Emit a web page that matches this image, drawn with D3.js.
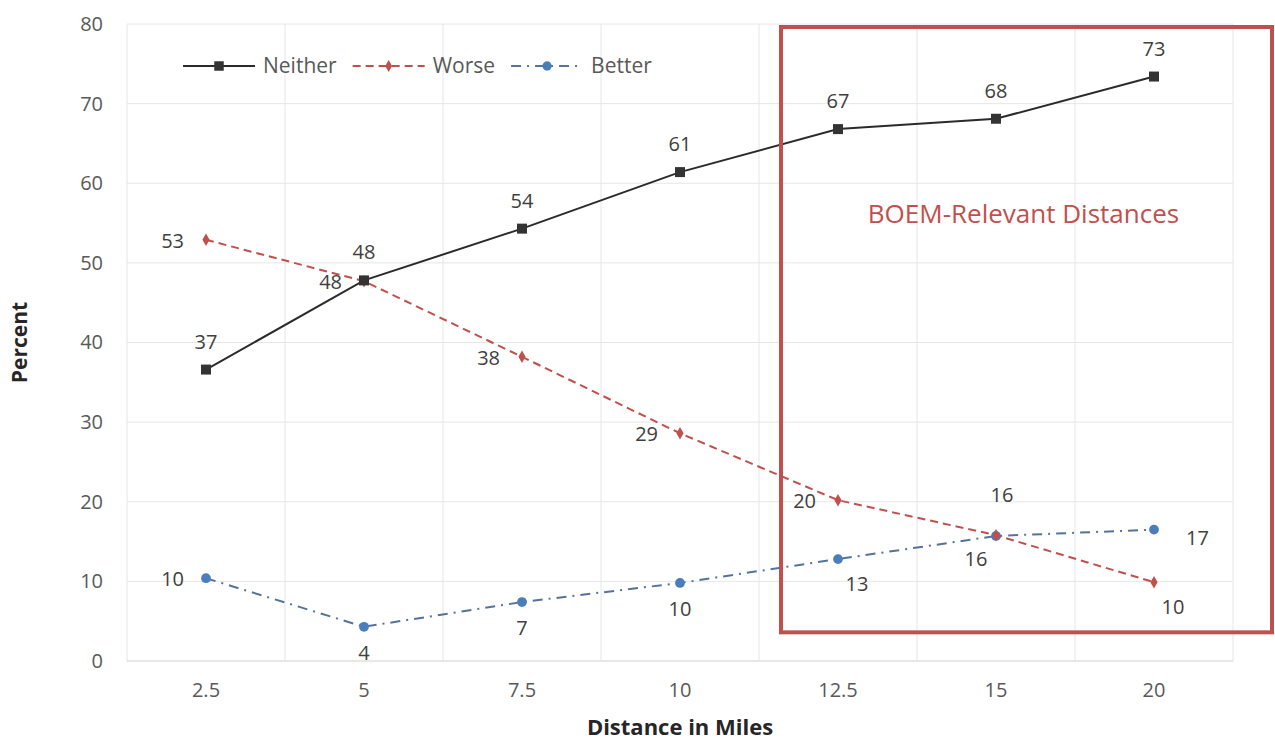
<!DOCTYPE html>
<html>
<head>
<meta charset="utf-8">
<script src="https://cdn.jsdelivr.net/npm/d3@7/dist/d3.min.js"></script>
<style>
  body { margin: 0; background: #fff; }
  svg text { font-family: "Open Sans", "Noto Sans", sans-serif; }
</style>
</head>
<body>
<div id="chart"></div>
<script>
// datos
const distancias = ['2.5', '5', '7.5', '10', '12.5', '15', '20'];
const neither = [36.6, 47.8, 54.3, 61.4, 66.8, 68.1, 73.4];
const worse   = [52.9, 47.7, 38.2, 28.6, 20.2, 15.8, 9.9];
const better  = [10.4, 4.3, 7.4, 9.8, 12.8, 15.7, 16.5];
const yTicks  = [0, 10, 20, 30, 40, 50, 60, 70, 80];
const zonaCategorias = ['12.5', '20'];   // recuadro "BOEM-Relevant Distances"

// donde va cada etiqueta
const posNeither = ['above', 'above', 'above', 'above', 'above', 'above', 'above'];
const posWorse   = ['left', 'left', 'left', 'left', 'left', 'aboveHigh', 'belowR'];
const posBetter  = ['left', 'below', 'below', 'below', 'belowR', 'belowL', 'right'];

const W = 1275, H = 745;
const margin = { top: 24, left: 127, right: 42, bottom: 84 };
const ancho = W - margin.left - margin.right;
const alto  = H - margin.top - margin.bottom;

const svg = d3.select('#chart').append('svg')
  .attr('width', W).attr('height', H);

const x = d3.scaleBand().domain(distancias).range([0, ancho]);
const y = d3.scaleLinear().domain([0, 80]).range([alto, 0]);
const cx = d => x(d) + x.bandwidth() / 2;

const g = svg.append('g').attr('transform', `translate(${margin.left},${margin.top})`);

// rejilla
g.append('g').selectAll('line').data(yTicks).join('line')
  .attr('x1', 0).attr('x2', ancho)
  .attr('y1', d => y(d)).attr('y2', d => y(d))
  .attr('stroke', d => d === 0 ? '#d0d0d0' : '#e6e6e6').attr('stroke-width', 1);
g.append('g').selectAll('line').data(distancias.concat(['end'])).join('line')
  .attr('x1', (d, i) => i * x.bandwidth()).attr('x2', (d, i) => i * x.bandwidth())
  .attr('y1', 0).attr('y2', alto)
  .attr('stroke', '#e6e6e6').attr('stroke-width', 1);

// ejes
const ejeY = g.append('g').call(d3.axisLeft(y).tickValues(yTicks).tickSize(0).tickPadding(24));
ejeY.select('.domain').remove();
ejeY.selectAll('text').attr('font-size', 20).attr('fill', '#595959');

const ejeX = g.append('g').attr('transform', `translate(0,${alto})`)
  .call(d3.axisBottom(x).tickSize(0).tickPadding(22));
ejeX.select('.domain').remove();
ejeX.selectAll('text').attr('font-size', 20).attr('fill', '#595959');

svg.append('text')
  .attr('transform', `translate(27,${margin.top + alto / 2}) rotate(-90)`)
  .attr('text-anchor', 'middle')
  .attr('font-size', 21).attr('font-weight', 'bold').attr('fill', '#262626')
  .text('Percent');
svg.append('text')
  .attr('x', margin.left + ancho / 2).attr('y', 735)
  .attr('text-anchor', 'middle')
  .attr('font-size', 22).attr('font-weight', 'bold').attr('fill', '#262626')
  .text('Distance in Miles');

// series
const series = [
  { nombre: 'Neither', valores: neither, pos: posNeither, color: '#333333', linea: '#2b2b2b', dash: null, marca: d3.symbolSquare, tam: 100 },
  { nombre: 'Worse', valores: worse, pos: posWorse, color: '#c0504d', linea: '#c0504d', dash: '8,5', marca: d3.symbolDiamond, tam: 45 },
  { nombre: 'Better', valores: better, pos: posBetter, color: '#4a7ebb', linea: '#55739a', dash: '10,6,2,6', marca: d3.symbolCircle, tam: 75 }
];

const linea = d3.line().x((d, i) => cx(distancias[i])).y(d => y(d));

series.slice().reverse().forEach(s => {
  g.append('path').datum(s.valores)
    .attr('d', linea)
    .attr('fill', 'none')
    .attr('stroke', s.linea)
    .attr('stroke-width', 2)
    .attr('stroke-dasharray', s.dash);
  g.append('g').selectAll('path').data(s.valores).join('path')
    .attr('d', d3.symbol().type(s.marca).size(s.tam))
    .attr('transform', (d, i) => `translate(${cx(distancias[i])},${y(d)})`)
    .attr('fill', s.color);
});

const offsets = {
  above:     { dx: 0,   dy: -21, anchor: 'middle' },
  aboveHigh: { dx: 6,   dy: -33, anchor: 'middle' },
  below:     { dx: 0,   dy: 33,  anchor: 'middle' },
  belowR:    { dx: 19,  dy: 32,  anchor: 'middle' },
  belowL:    { dx: -20, dy: 30,  anchor: 'middle' },
  left:      { dx: -22, dy: 8,   anchor: 'end' },
  right:     { dx: 32,  dy: 15,  anchor: 'start' }
};

series.forEach(s => {
  g.append('g').selectAll('text').data(s.valores).join('text')
    .attr('x', (d, i) => cx(distancias[i]) + offsets[s.pos[i]].dx)
    .attr('y', (d, i) => y(d) + offsets[s.pos[i]].dy)
    .attr('text-anchor', (d, i) => offsets[s.pos[i]].anchor)
    .attr('font-size', 20).attr('fill', '#404040')
    .text(d => d3.format('.0f')(d));
});

// recuadro
const x0 = cx(zonaCategorias[0]) - 57;
const x1 = cx(zonaCategorias[1]) + 118;
g.append('rect')
  .attr('x', x0).attr('y', y(80) + 3)
  .attr('width', x1 - x0).attr('height', y(3.6) - y(80) - 3)
  .attr('fill', 'none').attr('stroke', '#c0504d').attr('stroke-width', 4);
g.append('text')
  .attr('x', (x0 + x1) / 2 - 3).attr('y', y(55.0))
  .attr('text-anchor', 'middle')
  .attr('font-size', 26).attr('fill', '#c0504d')
  .text('BOEM-Relevant Distances');

// leyenda
const leyenda = g.append('g').attr('transform', 'translate(56,42)');
let lx = 0;
series.forEach(s => {
  const item = leyenda.append('g').attr('transform', `translate(${lx},0)`);
  item.append('line').attr('x1', 0).attr('x2', 72).attr('y1', 0).attr('y2', 0)
    .attr('stroke', s.linea).attr('stroke-width', 2).attr('stroke-dasharray', s.dash);
  item.append('path').attr('d', d3.symbol().type(s.marca).size(s.tam * 0.9))
    .attr('transform', 'translate(36,0)').attr('fill', s.color);
  const t = item.append('text').attr('x', 80).attr('y', 7)
    .attr('font-size', 21).attr('fill', '#595959').text(s.nombre);
  lx += 80 + t.node().getComputedTextLength() + 16;
});
</script>
</body>
</html>
